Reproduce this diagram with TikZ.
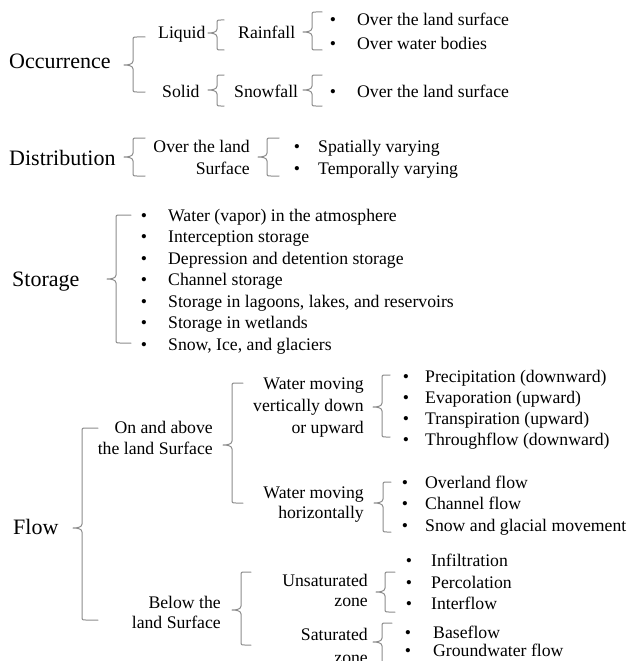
\documentclass[tikz,border=0pt]{standalone}
\usepackage{fontspec}
\setmainfont{Liberation Serif}
\definecolor{bracegray}{RGB}{140,140,140}
\newcommand{\grpbrace}[5]{%
 \draw[brc] ({#1+#5},#2) -- ({#1+4},#2) .. controls (#1,#2) .. (#1,{#2+4}) -- (#1,{#4-4}) .. controls (#1,{#4-1}) and ({#1-4},#4) .. ({#1-9},#4) .. controls ({#1-4},#4) and (#1,{#4+1}) .. (#1,{#4+4}) -- (#1,{#3-4}) .. controls (#1,#3) .. ({#1+4},#3) -- ({#1+#5},#3);}
\begin{document}
\begin{tikzpicture}[x=1pt,y=-1pt,
  txt/.style={font=\fontsize{17.7}{20}\selectfont, inner sep=0pt, anchor=base west},
  txtr/.style={txt, anchor=base east},
  big/.style={font=\fontsize{22}{24}\selectfont, inner sep=0pt, anchor=base west},
  blt/.style={txt, anchor=base},
  brc/.style={draw=bracegray, line width=1pt, line cap=round, line join=round}]
\useasboundingbox (0,0) rectangle (631,661);
% ---------- Occurrence ----------
\node[big] (occ) at (9,69) {Occurrence};
\node[txt] (liq) at (158,39) {Liquid};
\node[txt] (rain) at (238,39) {Rainfall};
\node[txt] (sol) at (162,97) {Solid};
\node[txt] (snow) at (234,97) {Snowfall};
\node[blt] (b1) at (333,26) {\textbullet};
\node[blt] (b2) at (333,49) {\textbullet};
\node[blt] (b3) at (333,97) {\textbullet};
\node[txt] (o1) at (357,26) {Over the land surface};
\node[txt] (o2) at (357,49) {Over water bodies};
\node[txt] (o3) at (357,97) {Over the land surface};
\grpbrace{133}{37}{92}{65}{12}
\grpbrace{217}{20}{50}{33}{7}
\grpbrace{312}{12}{50}{32}{10}
\grpbrace{217}{75}{106}{90}{7}
\grpbrace{312}{75}{106}{90}{10}
% ---------- Distribution ----------
\node[big] (dis) at (9,165) {Distribution};
\node[txtr] (ol1) at (250,152) {Over the land};
\node[txtr] (ol2) at (250,174) {Surface};
\node[blt] (b4) at (297,152) {\textbullet};
\node[blt] (b5) at (297,174) {\textbullet};
\node[txt] (d1) at (318,152) {Spatially varying};
\node[txt] (d2) at (318,174) {Temporally varying};
\grpbrace{133}{138}{176}{157}{12}
\grpbrace{267}{138}{176}{157}{12}
% ---------- Storage ----------
\node[big] (sto) at (12,286) {Storage};
\foreach \yy/\tt [count=\i] in {221/{Water (vapor) in the atmosphere},242.5/{Interception storage},264/{Depression and detention storage},285.5/{Channel storage},307/{Storage in lagoons, lakes, and reservoirs},328.5/{Storage in wetlands},350/{Snow, Ice, and glaciers}}{
  \node[blt] (sb\i) at (144,\yy) {\textbullet};
  \node[txt] (st\i) at (168,\yy) {\tt};
}
\grpbrace{116}{215}{343}{279}{15}
% ---------- Flow ----------
\node[big] (flo) at (13,534) {Flow};
\node[txtr] (ab1) at (213,433) {On and above};
\node[txtr] (ab2) at (213,454) {the land Surface};
\node[txtr] (wv1) at (364,389) {Water moving};
\node[txtr] (wv2) at (364,411) {vertically down};
\node[txtr] (wv3) at (364,433) {or upward};
\foreach \yy/\tt [count=\i] in {382/{Precipitation (downward)},403/{Evaporation (upward)},424/{Transpiration (upward)},445/{Throughflow (downward)}}{
  \node[blt] (vb\i) at (406,\yy) {\textbullet};
  \node[txt] (vt\i) at (425,\yy) {\tt};
}
\node[txtr] (wh1) at (364,498) {Water moving};
\node[txtr] (wh2) at (364,518) {horizontally};
\foreach \yy/\tt [count=\i] in {488/{Overland flow},509/{Channel flow},531/{Snow and glacial movement}}{
  \node[blt] (hb\i) at (405,\yy) {\textbullet};
  \node[txt] (ht\i) at (425,\yy) {\tt};
}
\node[txtr] (bl1) at (221,608) {Below the};
\node[txtr] (bl2) at (221,628) {land Surface};
\node[txtr] (un1) at (368,586) {Unsaturated};
\node[txtr] (un2) at (368,606) {zone};
\foreach \yy/\tt [count=\i] in {566/{Infiltration},588/{Percolation},609/{Interflow}}{
  \node[blt] (ub\i) at (409,\yy) {\textbullet};
  \node[txt] (ut\i) at (431,\yy) {\tt};
}
\node[txtr] (sa1) at (368,640) {Saturated};
\node[txtr] (sa2) at (368,663) {zone};
\foreach \yy/\tt [count=\i] in {638/{Baseflow},656/{Groundwater flow}}{
  \node[blt] (zb\i) at (408,\yy) {\textbullet};
  \node[txt] (zt\i) at (433,\yy) {\tt};
}
\grpbrace{82}{428}{620}{528}{16}
\grpbrace{232}{383}{503}{445}{11}
\grpbrace{382}{375}{437}{407}{8}
\grpbrace{383}{482}{532}{503}{8}
\grpbrace{241}{572}{645}{610}{10}
\grpbrace{385}{572}{612}{592}{10}
\grpbrace{382}{623}{690}{642}{10}
\end{tikzpicture}
\end{document}
